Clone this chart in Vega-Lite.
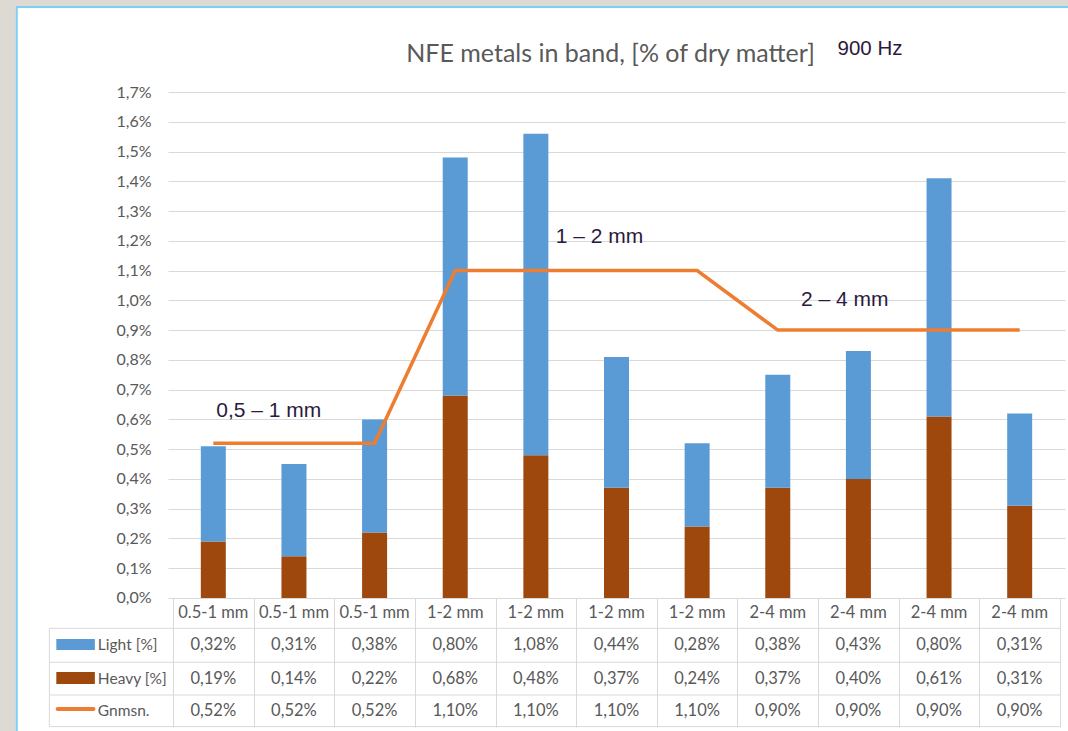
{
  "$schema": "https://vega.github.io/schema/vega-lite/v6.json",
  "width": 897,
  "height": 635,
  "autosize": {"type": "none"},
  "padding": {"left": 168, "top": 92, "right": 3, "bottom": 4},
  "background": "white",
  "config": {
    "locale": {"number": {"decimal": ",", "thousands": " ", "grouping": [3], "currency": ["", " €"]}},
    "view": {"stroke": null},
    "axis": {
      "labelFont": "Lato",
      "labelFontSize": 16,
      "labelColor": "#595959",
      "gridColor": "#d9d9d9",
      "domain": false,
      "title": null
    }
  },
  "data": {
    "values": [
      {"i": 0, "cat": "0.5-1 mm", "light": 0.0032, "heavy": 0.0019, "avg": 0.0052},
      {"i": 1, "cat": "0.5-1 mm", "light": 0.0031, "heavy": 0.0014, "avg": 0.0052},
      {"i": 2, "cat": "0.5-1 mm", "light": 0.0038, "heavy": 0.0022, "avg": 0.0052},
      {"i": 3, "cat": "1-2 mm", "light": 0.0080, "heavy": 0.0068, "avg": 0.0110},
      {"i": 4, "cat": "1-2 mm", "light": 0.0108, "heavy": 0.0048, "avg": 0.0110},
      {"i": 5, "cat": "1-2 mm", "light": 0.0044, "heavy": 0.0037, "avg": 0.0110},
      {"i": 6, "cat": "1-2 mm", "light": 0.0028, "heavy": 0.0024, "avg": 0.0110},
      {"i": 7, "cat": "2-4 mm", "light": 0.0038, "heavy": 0.0037, "avg": 0.0090},
      {"i": 8, "cat": "2-4 mm", "light": 0.0043, "heavy": 0.0040, "avg": 0.0090},
      {"i": 9, "cat": "2-4 mm", "light": 0.0080, "heavy": 0.0061, "avg": 0.0090},
      {"i": 10, "cat": "2-4 mm", "light": 0.0031, "heavy": 0.0031, "avg": 0.0090}
    ]
  },
  "layer": [
    {
      "data": {"values": [{}]},
      "mark": {"type": "rect", "filled": false, "color": "#dddad4", "strokeWidth": 20},
      "encoding": {
        "x": {"datum": -2.5725}, "x2": {"datum": 13},
        "y": {"datum": 0.020225}, "y2": {"datum": -0.01}
      }
    },
    {
      "data": {"values": [{}]},
      "mark": {"type": "rect", "filled": false, "color": "#7ccff5", "strokeWidth": 2},
      "encoding": {
        "x": {"datum": -2.4376}, "x2": {"datum": 13},
        "y": {"datum": 0.019856}, "y2": {"datum": -0.01}
      }
    },
    {
      "transform": [{"fold": ["heavy", "light"], "as": ["series", "value"]}],
      "mark": {"type": "bar", "width": 25},
      "encoding": {
        "x": {
          "field": "i",
          "type": "quantitative",
          "scale": {"domain": [-0.5, 10.5], "nice": false, "zero": false},
          "axis": {
            "orient": "bottom",
            "values": [-0.5, 0.5, 1.5, 2.5, 3.5, 4.5, 5.5, 6.5, 7.5, 8.5, 9.5, 10.5],
            "tickCount": 30,
            "labels": false,
            "ticks": true,
            "tickSize": -129,
            "tickColor": "#d9d9d9",
            "tickWidth": 1,
            "grid": false
          }
        },
        "y": {
          "field": "value",
          "type": "quantitative",
          "stack": "zero",
          "scale": {"domain": [-0.004334, 0.017], "nice": false, "zero": false},
          "axis": {
            "values": [0, 0.001, 0.002, 0.003, 0.004, 0.005, 0.006, 0.007, 0.008, 0.009, 0.010, 0.011, 0.012, 0.013, 0.014, 0.015, 0.016, 0.017],
            "tickCount": 30,
            "format": ".1%",
            "grid": true,
            "ticks": false,
            "tickSize": 0,
            "labelPadding": 17,
            "labelOverlap": false
          }
        },
        "color": {
          "field": "series",
          "type": "nominal",
          "scale": {"domain": ["heavy", "light"], "range": ["#9e480e", "#5b9bd5"]},
          "legend": null
        },
        "order": {"field": "series", "sort": "ascending"}
      }
    },
    {
      "mark": {"type": "line", "color": "#ed7d31", "strokeWidth": 3.5},
      "encoding": {
        "x": {"field": "i", "type": "quantitative"},
        "y": {"field": "avg", "type": "quantitative"}
      }
    },
    {
      "data": {"values": [{}]},
      "mark": {"type": "rule", "color": "#d9d9d9", "strokeWidth": 1},
      "encoding": {"x": {"datum": -2.033}, "x2": {"datum": 10.5}, "y": {"datum": -0.001018}}
    },
    {
      "data": {"values": [{}]},
      "mark": {"type": "rule", "color": "#d9d9d9", "strokeWidth": 1},
      "encoding": {"x": {"datum": -2.033}, "x2": {"datum": 10.5}, "y": {"datum": -0.00216}}
    },
    {
      "data": {"values": [{}]},
      "mark": {"type": "rule", "color": "#d9d9d9", "strokeWidth": 1},
      "encoding": {"x": {"datum": -2.033}, "x2": {"datum": 10.5}, "y": {"datum": -0.003259}}
    },
    {
      "data": {"values": [{}]},
      "mark": {"type": "rule", "color": "#d9d9d9", "strokeWidth": 1},
      "encoding": {"x": {"datum": -2.033}, "x2": {"datum": 10.5}, "y": {"datum": -0.00432}}
    },
    {
      "data": {"values": [{}]},
      "mark": {"type": "rule", "color": "#d9d9d9", "strokeWidth": 1},
      "encoding": {"x": {"datum": -2.033}, "y": {"datum": -0.001018}, "y2": {"datum": -0.00432}}
    },
    {
      "mark": {"type": "text", "font": "Lato", "fontSize": 16.5, "color": "#595959", "align": "center", "baseline": "middle"},
      "encoding": {
        "x": {"field": "i", "type": "quantitative"},
        "y": {"datum": -0.000504},
        "text": {"field": "cat"}
      }
    },
    {
      "mark": {"type": "text", "font": "Lato", "fontSize": 16.5, "color": "#595959", "align": "center", "baseline": "middle"},
      "encoding": {
        "x": {"field": "i", "type": "quantitative"},
        "y": {"datum": -0.001589},
        "text": {"field": "light", "type": "quantitative", "format": ".2%"}
      }
    },
    {
      "mark": {"type": "text", "font": "Lato", "fontSize": 16.5, "color": "#595959", "align": "center", "baseline": "middle"},
      "encoding": {
        "x": {"field": "i", "type": "quantitative"},
        "y": {"datum": -0.002708},
        "text": {"field": "heavy", "type": "quantitative", "format": ".2%"}
      }
    },
    {
      "mark": {"type": "text", "font": "Lato", "fontSize": 16.5, "color": "#595959", "align": "center", "baseline": "middle"},
      "encoding": {
        "x": {"field": "i", "type": "quantitative"},
        "y": {"datum": -0.003796},
        "text": {"field": "avg", "type": "quantitative", "format": ".2%"}
      }
    },
    {
      "data": {"values": [{}]},
      "mark": {"type": "rect", "color": "#5b9bd5"},
      "encoding": {"x": {"datum": -1.947}, "x2": {"datum": -1.469}, "y": {"datum": -0.001377}, "y2": {"datum": -0.001747}}
    },
    {
      "data": {"values": [{}]},
      "mark": {"type": "rect", "color": "#9e480e"},
      "encoding": {"x": {"datum": -1.947}, "x2": {"datum": -1.469}, "y": {"datum": -0.002486}, "y2": {"datum": -0.002889}}
    },
    {
      "data": {"values": [{}]},
      "mark": {"type": "rule", "color": "#ed7d31", "strokeWidth": 4, "strokeCap": "round"},
      "encoding": {"x": {"datum": -1.93}, "x2": {"datum": -1.486}, "y": {"datum": -0.003729}}
    },
    {
      "data": {"values": [{}]},
      "mark": {"type": "text", "text": "Light [%]", "font": "Lato", "fontSize": 15.5, "color": "#595959", "align": "left", "baseline": "middle"},
      "encoding": {"x": {"datum": -1.432}, "y": {"datum": -0.001589}}
    },
    {
      "data": {"values": [{}]},
      "mark": {"type": "text", "text": "Heavy [%]", "font": "Lato", "fontSize": 15.5, "color": "#595959", "align": "left", "baseline": "middle"},
      "encoding": {"x": {"datum": -1.432}, "y": {"datum": -0.002708}}
    },
    {
      "data": {"values": [{}]},
      "mark": {"type": "text", "text": "Gnmsn.", "font": "Lato", "fontSize": 15.5, "color": "#595959", "align": "left", "baseline": "middle"},
      "encoding": {"x": {"datum": -1.432}, "y": {"datum": -0.003796}}
    },
    {
      "data": {"values": [{}]},
      "mark": {"type": "text", "text": "NFE metals in band, [% of dry matter]", "font": "Lato", "fontSize": 25, "color": "#595959", "align": "center", "baseline": "alphabetic"},
      "encoding": {"x": {"datum": 4.926}, "y": {"datum": 0.018}}
    },
    {
      "data": {"values": [{}]},
      "mark": {"type": "text", "text": "0,5 – 1 mm", "font": "Liberation Sans", "fontSize": 21, "color": "#2b1a3d", "align": "left", "baseline": "middle"},
      "encoding": {"x": {"datum": 0.036}, "y": {"datum": 0.00628}}
    },
    {
      "data": {"values": [{}]},
      "mark": {"type": "text", "text": "1 – 2 mm", "font": "Liberation Sans", "fontSize": 21, "color": "#2b1a3d", "align": "left", "baseline": "middle"},
      "encoding": {"x": {"datum": 4.246}, "y": {"datum": 0.01213}}
    },
    {
      "data": {"values": [{}]},
      "mark": {"type": "text", "text": "2 – 4 mm", "font": "Liberation Sans", "fontSize": 21, "color": "#2b1a3d", "align": "left", "baseline": "middle"},
      "encoding": {"x": {"datum": 7.287}, "y": {"datum": 0.01001}}
    },
    {
      "data": {"values": [{}]},
      "mark": {"type": "text", "text": "900 Hz", "font": "Liberation Sans", "fontSize": 20.5, "color": "#2b1a3d", "align": "left", "baseline": "middle"},
      "encoding": {"x": {"datum": 7.741}, "y": {"datum": 0.01844}}
    }
  ]
}
